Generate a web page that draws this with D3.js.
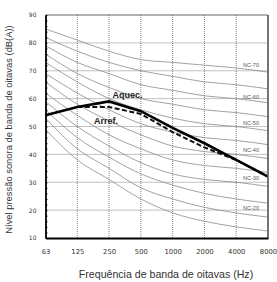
<!DOCTYPE html>
<html>
<head>
<meta charset="utf-8">
<script src="https://cdn.jsdelivr.net/npm/d3@7"></script>
<style>
body { margin: 0; background: #fff; }
svg { display: block; }
</style>
</head>
<body>
<div id="chart"></div>
<script>
const width = 277;
const height = 282;
const margin = { top: 15, right: 9, bottom: 44, left: 45.5 };

// octave bands
const bands = ['63', '125', '250', '500', '1000', '2000', '4000', '8000'];
const yTicks = [10, 20, 30, 40, 50, 60, 70, 80, 90];

// NC curves
const ncNames = ['NC-15', 'NC-20', 'NC-25', 'NC-30', 'NC-35', 'NC-40', 'NC-45', 'NC-50', 'NC-55', 'NC-60', 'NC-65', 'NC-70'];
const ncValues = [
  [49, 38, 31, 24, 19, 16, 14, 12.5],
  [53, 42, 35, 28, 24, 21, 19, 17.5],
  [56, 46, 39, 33, 29, 26, 24, 22.5],
  [59, 50, 43, 37, 33, 31, 30, 28.5],
  [62, 54, 47, 42, 38, 36, 35, 33.5],
  [66, 58, 52, 47, 43, 41, 40, 38.5],
  [69, 62, 56, 51, 48, 46, 45, 43.5],
  [73, 66, 60, 56, 53, 51, 50, 48.5],
  [76, 69, 64, 60, 58, 56, 55, 53.5],
  [79, 73, 69, 65, 63, 61, 60, 58.5],
  [82, 77, 73, 70, 68, 66, 65, 63.5],
  [85, 81, 77, 74, 73, 72, 71, 69.5]
];
const ncLabels = ['NC-20', 'NC-30', 'NC-40', 'NC-50', 'NC-60', 'NC-70'];
const ncLabelDb = [20.7, 31.4, 41.5, 51.4, 60.5, 72];

// measured spectra
const aquec = [54, 57, 59, 55.5, 49.5, 44, 38, 32];
const arref = [null, 57, 57, 54.5, 48, 42.5, 38, 32];

const x = d3.scalePoint().domain(bands).range([margin.left, width - margin.right]);
const y = d3.scaleLinear().domain([10, 90]).range([height - margin.bottom, margin.top]);

const svg = d3.select('#chart').append('svg').attr('width', width).attr('height', height)
  .style('font-family', 'Arial, "Liberation Sans", sans-serif');

svg.append('defs').append('clipPath').attr('id', 'plot')
  .append('rect')
  .attr('x', margin.left).attr('y', margin.top)
  .attr('width', width - margin.right - margin.left)
  .attr('height', height - margin.bottom - margin.top);

// grid
svg.append('g').selectAll('line')
  .data(bands.slice(1, -1))
  .join('line')
  .attr('x1', d => x(d)).attr('x2', d => x(d))
  .attr('y1', margin.top).attr('y2', height - margin.bottom)
  .attr('stroke', '#666').attr('stroke-width', 0.8).attr('stroke-dasharray', '1,1');

svg.append('g').selectAll('line')
  .data(yTicks.slice(1, -1))
  .join('line')
  .attr('x1', margin.left).attr('x2', width - margin.right)
  .attr('y1', d => y(d)).attr('y2', d => y(d))
  .attr('stroke', '#666').attr('stroke-width', 0.8).attr('stroke-dasharray', '1,1');

// NC curves
const ncLine = d3.line()
  .x((d, i) => x(bands[i]))
  .y(d => y(d))
  .curve(d3.curveMonotoneX);

svg.append('g').attr('clip-path', 'url(#plot)')
  .selectAll('path')
  .data(ncValues)
  .join('path')
  .attr('d', ncLine)
  .attr('fill', 'none')
  .attr('stroke', '#8a8a8a')
  .attr('stroke-width', 0.8);

svg.append('g').selectAll('text')
  .data(ncLabels)
  .join('text')
  .attr('x', 251)
  .attr('y', (d, i) => y(ncLabelDb[i]))
  .attr('dy', '0.35em')
  .attr('text-anchor', 'middle')
  .attr('font-size', 5.5)
  .attr('fill', '#555')
  .text(d => d);

// spectra
const specLine = d3.line()
  .defined(d => d != null)
  .x((d, i) => x(bands[i]))
  .y(d => y(d));

svg.append('path')
  .attr('d', specLine(arref))
  .attr('fill', 'none')
  .attr('stroke', '#111')
  .attr('stroke-width', 2)
  .attr('stroke-dasharray', '5,2.5');

svg.append('path')
  .attr('d', specLine(aquec))
  .attr('fill', 'none')
  .attr('stroke', '#000')
  .attr('stroke-width', 2.6);

svg.append('text').attr('x', 112.5).attr('y', 97.5)
  .attr('font-size', 9).attr('font-weight', 'bold').attr('fill', '#222')
  .text('Aquec.');
svg.append('text').attr('x', 94).attr('y', 123.5)
  .attr('font-size', 9).attr('font-weight', 'bold').attr('fill', '#222')
  .text('Arref.');

// frame
svg.append('line')
  .attr('x1', margin.left).attr('x2', width - margin.right)
  .attr('y1', margin.top).attr('y2', margin.top)
  .attr('stroke', '#666').attr('stroke-width', 1.2);
svg.append('line')
  .attr('x1', width - margin.right).attr('x2', width - margin.right)
  .attr('y1', margin.top).attr('y2', height - margin.bottom)
  .attr('stroke', '#666').attr('stroke-width', 1.8);

// y axis with inner minor ticks
const yAxis = svg.append('g').attr('transform', `translate(${margin.left},0)`);
yAxis.append('g')
  .call(d3.axisRight(y).ticks(40).tickSize(2).tickFormat(''))
  .call(g => g.select('.domain').remove())
  .call(g => g.selectAll('line').attr('stroke', '#222'));
yAxis.append('g')
  .call(d3.axisLeft(y).tickValues(yTicks).tickSize(0).tickPadding(9))
  .call(g => g.select('.domain').attr('stroke', '#000').attr('stroke-width', 1.8))
  .call(g => g.selectAll('text').attr('font-family', '"DejaVu Sans", sans-serif').attr('font-size', 6).attr('fill', '#333'));

const xAxis = svg.append('g').attr('transform', `translate(0,${height - margin.bottom})`)
  .call(d3.axisBottom(x).tickSize(0).tickPadding(11))
  .call(g => g.select('.domain').attr('stroke', '#000').attr('stroke-width', 1.8))
  .call(g => g.selectAll('text').attr('font-family', '"DejaVu Sans", sans-serif').attr('font-size', 6.8).attr('fill', '#333'));

// titles
svg.append('text')
  .attr('transform', `translate(9,${(margin.top + height - margin.bottom) / 2 + 3}) rotate(-90)`)
  .attr('text-anchor', 'middle')
  .attr('dy', '0.35em')
  .attr('font-size', 9.4)
  .attr('fill', '#333')
  .text('Nível pressão sonora de banda de oitavas (dB(A))');

svg.append('text')
  .attr('x', 166).attr('y', 274)
  .attr('text-anchor', 'middle')
  .attr('dy', '0.35em')
  .attr('font-size', 10.6)
  .attr('fill', '#333')
  .text('Frequência de banda de oitavas (Hz)');
</script>
</body>
</html>
